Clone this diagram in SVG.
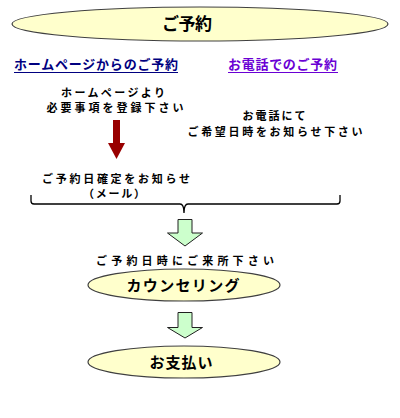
<svg xmlns="http://www.w3.org/2000/svg" width="400" height="418" viewBox="0 0 400 418">
<style>
text{font-family:"Noto Sans CJK JP","Noto Sans",sans-serif;font-weight:bold;fill:#000;}
.t{font-size:11px;}
.ell{fill:#ffffcc;stroke:#404040;stroke-width:1.2;}
.garrow{fill:#ccffcc;stroke:#202020;stroke-width:1;}
.lnk1{fill:#000080;font-size:13px;}
.lnk2{fill:#6a00d4;font-size:13px;}
</style>
<rect width="400" height="418" fill="#fff"/>
<g id="yoyaku">
<ellipse class="ell" cx="200" cy="24" rx="188" ry="17"/>
<text x="187" y="30" font-size="17" text-anchor="middle" textLength="50" lengthAdjust="spacing">ご予約</text>
</g>
<g id="link-hp">
<text class="lnk1" x="14" y="69" textLength="164" lengthAdjust="spacing">ホームページからのご予約</text>
<line x1="14" y1="72.5" x2="178" y2="72.5" stroke="#000080" stroke-width="1"/>
</g>
<g id="link-tel">
<text class="lnk2" x="228" y="69" textLength="109" lengthAdjust="spacing">お電話でのご予約</text>
<line x1="228" y1="72.5" x2="338" y2="72.5" stroke="#6a00d4" stroke-width="1"/>
</g>
<g id="hp-step">
<text class="t" x="113" y="96.5" text-anchor="middle" textLength="104" lengthAdjust="spacing">ホームページより</text>
<text class="t" x="115" y="112" text-anchor="middle" textLength="137" lengthAdjust="spacing">必要事項を登録下さい</text>
</g>
<g id="tel-step">
<text class="t" x="274" y="120" text-anchor="middle" textLength="63" lengthAdjust="spacing">お電話にて</text>
<text class="t" x="275" y="136" text-anchor="middle" textLength="175" lengthAdjust="spacing">ご希望日時をお知らせ下さい</text>
</g>
<g id="confirm">
<text class="t" x="116" y="182.5" text-anchor="middle" textLength="148" lengthAdjust="spacing">ご予約日確定をお知らせ</text>
<text class="t" x="114" y="198" text-anchor="middle" textLength="62" lengthAdjust="spacing">（メール）</text>
</g>
<g id="visit">
<text class="t" x="185" y="265" text-anchor="middle" textLength="178" lengthAdjust="spacing">ご予約日時にご来所下さい</text>
</g>
<g id="counseling">
<ellipse class="ell" cx="184" cy="285" rx="96" ry="16"/>
<text x="183" y="291" font-size="15" text-anchor="middle" textLength="113" lengthAdjust="spacing">カウンセリング</text>
</g>
<g id="payment">
<ellipse class="ell" cx="184" cy="362" rx="96" ry="16"/>
<text x="181" y="368" font-size="15" text-anchor="middle" textLength="63" lengthAdjust="spacing">お支払い</text>
</g>
<g id="connectors">
<path d="M113,120 H120 V143 H125 L116.5,159 L108,143 H113 Z" fill="#990000"/>
<path d="M31,195 V201 Q31,204 34,204 H180 Q184,204 184,213 Q184,204 188,204 H337 Q340,204 340,201 V195" fill="none" stroke="#000" stroke-width="1.3"/>
<path class="garrow" d="M178,219.5 H192 V233 H202.5 L185,246 L167.5,233 H178 Z"/>
<path class="garrow" d="M178,312.5 H192 V327.5 H202.5 L185,338 L167.5,327.5 H178 Z"/>
</g>
</svg>
